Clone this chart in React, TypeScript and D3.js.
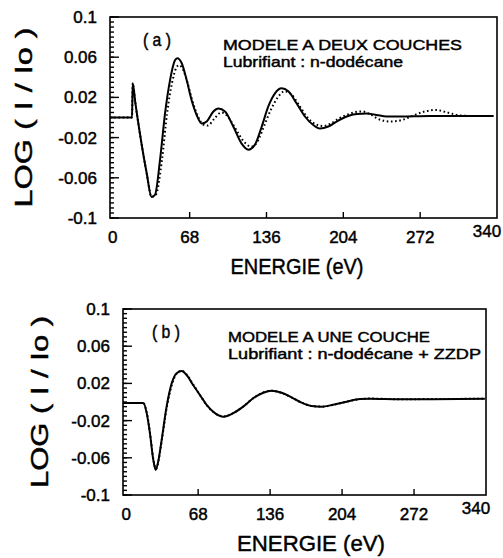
import React, { useEffect, useRef } from 'react';
import * as d3 from 'd3';

// panel (a) - solid curve (modele a deux couches)
const energyA = [-2.5, 17, 17.6, 20, 23.9, 29.9, 34.3, 37.3, 41.8, 46.2, 50.6, 55, 57, 61, 65.4, 69.8, 74.2, 78.7, 83.1, 89, 93.4, 99.3, 106.6, 114, 119.9, 125.8, 131.8, 137.6, 143.5, 149.4, 155.3, 162.7, 170, 177.4, 183.3, 190.7, 198.1, 207, 215.8, 224.7, 233.5, 242.3, 254, 280, 310, 337];
const solidA = [0, 0, 0.034, 0.014, -0.0154, -0.055, -0.079, -0.077, -0.042, 0.004, 0.037, 0.057, 0.059, 0.054, 0.037, 0.017, 0.0025, -0.006, -0.004, 0.006, 0.009, 0.006, -0.009, -0.026, -0.032, -0.027, -0.009, 0.011, 0.024, 0.029, 0.026, 0.014, 0.001, -0.0075, -0.011, -0.009, -0.004, 0.001, 0.0035, 0.004, 0.0025, 0.001, 0.001, 0.0015, 0.0015, 0.0015];

// panel (a) - dotted curve
const energyADot = [-2.5, 17, 17.6, 20, 23.9, 29.9, 34.3, 38, 43.5, 48, 52.5, 56, 58.5, 62, 66, 70, 75, 80, 84, 90, 96, 101, 108, 116, 122.5, 128, 134, 140, 146, 152, 158, 165, 173, 180, 186, 193, 200, 208, 215, 221, 228, 236, 246, 256, 266, 276, 286, 296, 308, 320, 337];
const dottedA = [0, 0, 0.034, 0.014, -0.0154, -0.055, -0.079, -0.077, -0.042, 0.004, 0.035, 0.049, 0.052, 0.048, 0.035, 0.018, 0.002, -0.007, -0.008, -0.001, 0.005, 0.002, -0.01, -0.024, -0.029, -0.024, -0.008, 0.008, 0.02, 0.026, 0.023, 0.012, -0.001, -0.007, -0.0085, -0.006, -0.001, 0.003, 0.0055, 0.006, 0.003, -0.002, -0.004, -0.0025, 0.002, 0.006, 0.0075, 0.005, 0.002, 0.0015, 0.0015];

// panel (b) - solid curve (modele a une couche)
const energyB = [-3, 16.2, 19.4, 22.5, 25.6, 27.9, 30.3, 33.5, 38.2, 43, 47.7, 52.4, 57.1, 63.4, 69.7, 76, 83.9, 91.7, 101.2, 110.6, 120, 129.5, 137.4, 146.9, 156.3, 165.8, 175.2, 184.6, 195.6, 208.3, 220.8, 230.2, 258.6, 290, 339];
const solidB = [-0.001, -0.001, -0.012, -0.034, -0.062, -0.073, -0.064, -0.041, -0.005, 0.02, 0.031, 0.0333, 0.029, 0.018, 0.0075, -0.003, -0.012, -0.0158, -0.012, -0.005, 0.004, 0.01, 0.0122, 0.01, 0.005, -0.0007, -0.0043, -0.005, -0.003, 0.0003, 0.0032, 0.0035, 0.003, 0.003, 0.0035];

// panel (b) - dotted curve (almost on top of the solid one)
const energyBDot = [-3, 16.2, 19.4, 22.5, 25.6, 28.2, 30.6, 33.8, 38.5, 43.3, 48, 52.8, 57.5, 63.8, 70, 76.5, 84.5, 92.3, 101.8, 111, 120.5, 130, 138, 147.5, 157, 166.5, 176, 185.5, 196.5, 209, 221.5, 231, 259, 291, 339];
const dottedB = [-0.001, -0.001, -0.011, -0.033, -0.061, -0.072, -0.063, -0.04, -0.005, 0.019, 0.031, 0.0335, 0.029, 0.018, 0.007, -0.004, -0.0125, -0.0155, -0.0115, -0.0045, 0.0045, 0.0105, 0.012, 0.0095, 0.0045, -0.001, -0.0045, -0.005, -0.0028, 0.0005, 0.0032, 0.0037, 0.003, 0.0032, 0.0035];

const xTickValues = [0, 68, 136, 204, 272, 340];
const yTickValues = [0.1, 0.06, 0.02, -0.02, -0.06, -0.1];
const yTickLabels = ['0.1', '0.06', '0.02', '-0.02', '-0.06', '-0.1'];

const panels = [
  {
    box: { left: 110, right: 497, top: 17, bottom: 218 },
    xMin: -2.5,
    tag: '( a )',
    title: 'MODELE A DEUX COUCHES',
    subtitle: 'Lubrifiant : n-dodécane',
    titleLen: 239,
    subLen: 180,
    textX: 223,
    tagX: 143,
    solid: { e: energyA, v: solidA },
    dotted: { e: energyADot, v: dottedA },
    xTitle: { cx: 297, len: 133 },
    yTitle: { cx: 24, len: 180 },
  },
  {
    box: { left: 123, right: 486, top: 309, bottom: 495 },
    xMin: -3,
    tag: '( b )',
    title: 'MODELE A UNE COUCHE',
    subtitle: 'Lubrifiant : n-dodécane + ZZDP',
    titleLen: 202,
    subLen: 253,
    textX: 228,
    tagX: 152,
    solid: { e: energyB, v: solidB },
    dotted: { e: energyBDot, v: dottedB },
    xTitle: { cx: 311, len: 148 },
    yTitle: { cx: 40, len: 172 },
  },
];

const FONT = "'Liberation Sans', Arial, sans-serif";

const Chart = () => {
  const ref = useRef<SVGSVGElement>(null);

  useEffect(() => {
    const svg = d3.select(ref.current);
    svg.selectAll('*').remove();

    // scanned print look: slightly heavier text
    const ink = (t: any) => t.attr('stroke', '#000').attr('stroke-width', 0.45);

    panels.forEach((p) => {
      const { box } = p;
      const g = svg.append('g');

      const xScale = d3.scaleLinear().domain([p.xMin, 340]).range([box.left, box.right]);
      const yScale = d3.scaleLinear().domain([-0.1, 0.1]).range([box.bottom, box.top]);

      // frame
      g.append('rect')
        .attr('x', box.left)
        .attr('y', box.top)
        .attr('width', box.right - box.left)
        .attr('height', box.bottom - box.top)
        .attr('fill', 'none')
        .attr('stroke', '#000')
        .attr('stroke-width', 1.6);

      // y minor ticks every 0.005
      const minor = d3.range(-0.1, 0.1001, 0.005);
      g.selectAll(null)
        .data(minor)
        .enter()
        .append('line')
        .attr('x1', box.left)
        .attr('x2', box.left + 4)
        .attr('y1', (d) => yScale(d))
        .attr('y2', (d) => yScale(d))
        .attr('stroke', '#000')
        .attr('stroke-width', 1.4);

      // y major ticks
      g.selectAll(null)
        .data(yTickValues)
        .enter()
        .append('line')
        .attr('x1', box.left)
        .attr('x2', box.left + 9)
        .attr('y1', (d) => yScale(d))
        .attr('y2', (d) => yScale(d))
        .attr('stroke', '#000')
        .attr('stroke-width', 1.4);

      ink(
        g.selectAll(null)
          .data(yTickValues)
          .enter()
          .append('text')
          .attr('x', box.left - 13)
          .attr('y', (d) => yScale(d) + 6)
          .attr('text-anchor', 'end')
          .style('font-family', FONT)
          .style('font-size', '17px')
          .text((d, i) => yTickLabels[i])
      );

      // x ticks (upward)
      g.selectAll(null)
        .data(xTickValues.slice(1, 5))
        .enter()
        .append('line')
        .attr('x1', (d) => xScale(d))
        .attr('x2', (d) => xScale(d))
        .attr('y1', box.bottom)
        .attr('y2', box.bottom - 6)
        .attr('stroke', '#000')
        .attr('stroke-width', 1.4);

      ink(
        g.selectAll(null)
          .data(xTickValues)
          .enter()
          .append('text')
          .attr('x', (d) => xScale(d) + (d === 340 ? -10 : 0))
          .attr('y', (d) => box.bottom + (d === 340 ? 19 : 25))
          .attr('text-anchor', 'middle')
          .style('font-family', FONT)
          .style('font-size', '17px')
          .text((d) => d)
      );

      const lineOf = (s: { e: number[]; v: number[] }) =>
        d3
          .line<number>()
          .x((d) => xScale(s.e[d]))
          .y((d) => yScale(s.v[d]))
          .curve(d3.curveMonotoneX)(d3.range(s.e.length));

      g.append('path')
        .attr('d', lineOf(p.dotted))
        .attr('fill', 'none')
        .attr('stroke', '#000')
        .attr('stroke-width', 2)
        .attr('stroke-dasharray', '1.6,2.6');

      g.append('path')
        .attr('d', lineOf(p.solid))
        .attr('fill', 'none')
        .attr('stroke', '#000')
        .attr('stroke-width', 2);

      // annotations
      ink(
        g.append('text')
          .attr('x', p.tagX)
          .attr('y', box.top + 29)
          .attr('textLength', 28)
          .attr('lengthAdjust', 'spacingAndGlyphs')
          .style('font-family', FONT)
          .style('font-size', '19px')
          .text(p.tag)
      );

      ink(
        g.append('text')
          .attr('x', p.textX)
          .attr('y', box.top + 33)
          .attr('textLength', p.titleLen)
          .attr('lengthAdjust', 'spacingAndGlyphs')
          .style('font-family', FONT)
          .style('font-size', '15px')
          .text(p.title)
      );

      ink(
        g.append('text')
          .attr('x', p.textX)
          .attr('y', box.top + 50)
          .attr('textLength', p.subLen)
          .attr('lengthAdjust', 'spacingAndGlyphs')
          .style('font-family', FONT)
          .style('font-size', '15px')
          .text(p.subtitle)
      );

      // axis titles
      ink(
        g.append('text')
          .attr('x', p.xTitle.cx - p.xTitle.len / 2)
          .attr('y', box.bottom + 56)
          .attr('textLength', p.xTitle.len)
          .attr('lengthAdjust', 'spacingAndGlyphs')
          .style('font-family', FONT)
          .style('font-size', '22px')
          .text('ENERGIE  (eV)')
      );

      const cy = (box.top + box.bottom) / 2;
      ink(
        g.append('text')
          .attr('transform', `translate(${p.yTitle.cx + 8},${cy}) rotate(-90)`)
          .attr('x', -p.yTitle.len / 2)
          .attr('textLength', p.yTitle.len)
          .attr('lengthAdjust', 'spacingAndGlyphs')
          .style('font-family', FONT)
          .style('font-size', '24px')
          .text('LOG ( I / Io )')
      );
    });
  }, []);

  return (
    <svg
      ref={ref}
      width={503}
      height={558}
      style={{ position: 'absolute', left: 0, top: 0, background: '#fff' }}
    />
  );
};

export default function App() {
  return <Chart />;
}
